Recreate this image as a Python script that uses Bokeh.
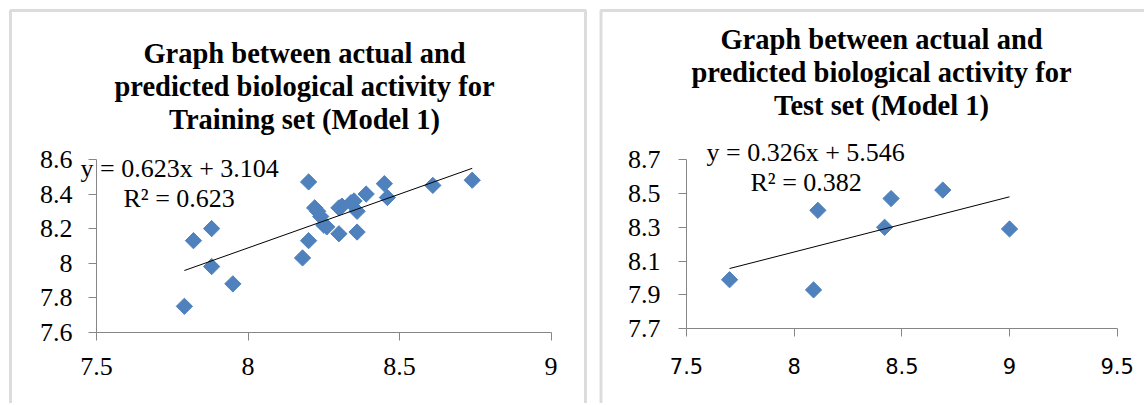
from bokeh.plotting import figure
from bokeh.models import Label, FixedTicker, Range1d, BoxAnnotation
from bokeh.layouts import row
from bokeh.embed import file_html
from bokeh.resources import INLINE

# ---------------- data ----------------
train_actual = [7.79, 7.82, 7.88, 7.88, 7.95, 8.18, 8.20, 8.20, 8.22, 8.23, 8.24, 8.25,
                8.26, 8.30, 8.30, 8.31, 8.34, 8.35, 8.36, 8.36, 8.39, 8.45, 8.46, 8.61, 8.74]
train_pred = [7.75, 8.13, 8.20, 7.98, 7.88, 8.03, 8.47, 8.13, 8.32, 8.30, 8.27, 8.22,
              8.21, 8.17, 8.32, 8.33, 8.35, 8.36, 8.30, 8.18, 8.40, 8.46, 8.38, 8.45, 8.48]
test_actual = [7.70, 8.09, 8.11, 8.42, 8.45, 8.69, 9.00]
test_pred = [7.99, 7.93, 8.40, 8.30, 8.47, 8.52, 8.29]

train_fit = (0.623, 3.104)
test_fit = (0.326, 5.546)

train_x_ticks = [7.5, 8.0, 8.5, 9.0]
train_x_labels = ["7.5", "8", "8.5", "9"]
train_y_ticks = [7.6, 7.8, 8.0, 8.2, 8.4, 8.6]
train_y_labels = ["7.6", "7.8", "8", "8.2", "8.4", "8.6"]
test_x_ticks = [7.5, 8.0, 8.5, 9.0, 9.5]
test_x_labels = ["7.5", "8", "8.5", "9", "9.5"]
test_y_ticks = [7.7, 7.9, 8.1, 8.3, 8.5, 8.7]
test_y_labels = ["7.7", "7.9", "8.1", "8.3", "8.5", "8.7"]

train_title = ["Graph between actual and", "predicted biological activity for", "Training set (Model 1)"]
test_title = ["Graph between actual and", "predicted biological activity for", "Test set (Model 1)"]
train_eq = ["y = 0.623x + 3.104", "R\u00b2 = 0.623"]
test_eq = ["y = 0.326x + 5.546", "R\u00b2 = 0.382"]

# ---------------- style / layout ----------------
SERIF = "'Liberation Serif', 'Times New Roman', serif"
SANS = "'DejaVu Sans', Verdana, sans-serif"
MARK = "#4F81BD"
AX = "#868686"
BORDER = "#8a8a8a"
CH = 403  # canvas height


def make_panel(xs, ys, fit, xt, xl, yt, yl, title, eq, c):
    ox, oy = c["origin"]            # page position of canvas top-left
    W = c["w"]
    ax_x = c["axis_x"] - ox          # canvas x of the y axis
    ax_y = c["axis_y"] - oy          # canvas y (from top) of the x axis
    ppx, ppy = c["ppu"]
    x0 = xt[0] - ax_x / ppx
    x1 = x0 + W / ppx
    y0 = yt[0] - (CH - ax_y) / ppy
    y1 = yt[0] + ax_y / ppy
    p = figure(width=W, height=CH, output_backend="svg", toolbar_location=None,
               title=None, x_range=Range1d(x0, x1), y_range=Range1d(y0, y1),
               min_border_left=0, min_border_right=0,
               min_border_top=0, min_border_bottom=0)
    p.outline_line_color = None
    p.background_fill_color = "white"
    p.border_fill_color = "white"
    p.xgrid.visible = False
    p.ygrid.visible = False

    xa, ya = p.xaxis[0], p.yaxis[0]
    xa.bounds = (xt[0], xt[-1])
    ya.bounds = (yt[0], yt[-1])
    ya.fixed_location = xt[0]
    xa.fixed_location = yt[0]
    for ax, ticks, labels, st, fnt, fs in (
        (xa, xt, xl, c["xstand"], c["xfont"], c["xfs"]),
        (ya, yt, yl, c["ystand"], SERIF, "26px"),
    ):
        ax.ticker = FixedTicker(ticks=ticks)
        ax.major_label_overrides = {t: l for t, l in zip(ticks, labels)}
        ax.axis_line_color = AX
        ax.axis_line_width = 1
        ax.major_tick_line_color = AX
        ax.major_tick_in = 0
        ax.major_tick_out = 8
        ax.minor_tick_line_color = None
        ax.major_label_text_font = fnt
        ax.major_label_text_font_size = fs
        ax.major_label_text_color = "black"
        ax.major_label_standoff = st

    p.scatter(xs, ys, marker="square", angle=0.785398, size=11.5,
              fill_color=MARK, line_color=MARK)
    xa0, xa1 = min(xs), max(xs)
    p.line([xa0, xa1], [fit[0] * xa0 + fit[1], fit[0] * xa1 + fit[1]],
           line_color="black", line_width=1)

    for txt, yb in zip(title, c["title_y"]):
        p.add_layout(Label(x=c["title_x"] - ox, y=yb - oy, x_units="canvas", y_units="canvas",
                           text=txt, text_font=SERIF, text_font_style="bold",
                           text_font_size="28.5px", text_align="center",
                           text_baseline="alphabetic", text_color="black"))
    for txt, (ex, ey) in zip(eq, c["eq_pos"]):
        p.add_layout(Label(x=ex - ox, y=ey - oy, x_units="canvas", y_units="canvas",
                           text=txt, text_font=SERIF, text_font_size="26px",
                           text_align="left", text_baseline="alphabetic",
                           text_color="black"))
    bl, br = c["box"]
    p.add_layout(BoxAnnotation(left=bl - ox, right=br - ox, top=10 - oy, bottom=CH + 20,
                               left_units="canvas", right_units="canvas",
                               top_units="canvas", bottom_units="canvas",
                               fill_alpha=0, line_color=BORDER, line_width=3,
                               level="overlay"))
    return p


# all positions below are page pixels (the canvas starts at the page's top-left corner)
LEFT_W, GAP = 588, 10
left_cfg = dict(w=LEFT_W, origin=(0, 0), axis_x=96, axis_y=331.7, ppu=(303.0, 172.7),
                xstand=18, ystand=16, xfont=SERIF, xfs="26px",
                title_x=304, title_y=[53.3, 86, 118.5],
                eq_pos=[(80, 168.3), (123, 198.3)],
                box=(10, 585))
right_cfg = dict(w=1144 - LEFT_W - GAP, origin=(LEFT_W + GAP, 0), axis_x=686, axis_y=328.3,
                 ppu=(215.35, 169.2),
                 xstand=21, ystand=18, xfont=SANS, xfs="21px",
                 title_x=881, title_y=[39.3, 71.7, 105],
                 eq_pos=[(706, 151.7), (750, 181.7)],
                 box=(600.5, 1200))

p1 = make_panel(train_actual, train_pred, train_fit, train_x_ticks, train_x_labels,
                train_y_ticks, train_y_labels, train_title, train_eq, left_cfg)
p2 = make_panel(test_actual, test_pred, test_fit, test_x_ticks, test_x_labels,
                test_y_ticks, test_y_labels, test_title, test_eq, right_cfg)

layout = row(p1, p2, spacing=GAP)
open("out.html", "w").write(file_html(layout, INLINE))
